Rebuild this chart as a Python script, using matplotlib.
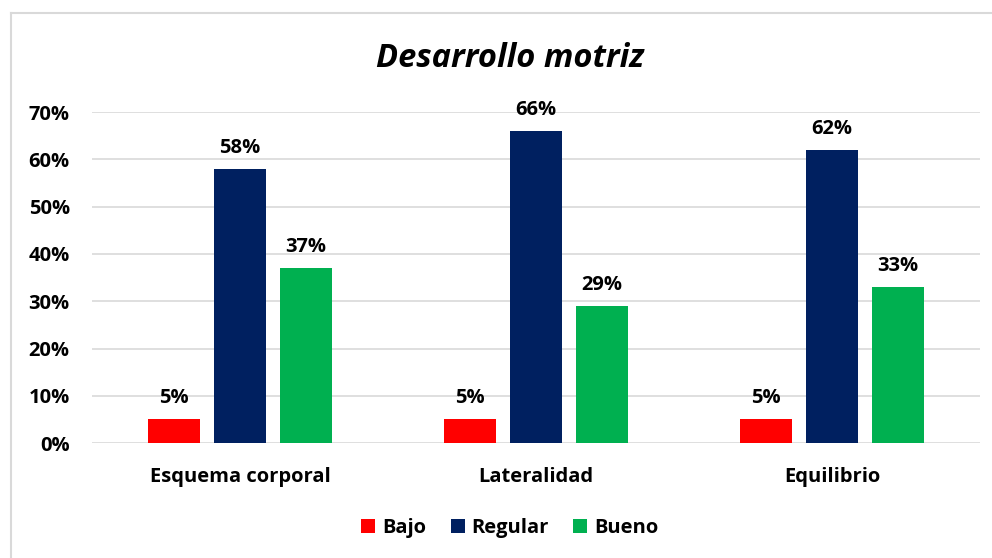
import matplotlib
matplotlib.use("Agg")
import matplotlib.pyplot as plt
import matplotlib.ticker as mticker
from matplotlib.lines import Line2D
import numpy as np

plt.rcParams["font.family"] = ["Open Sans", "DejaVu Sans"]

categorias = ["Esquema corporal", "Lateralidad", "Equilibrio"]
series = ["Bajo", "Regular", "Bueno"]
bajo = [5, 5, 5]
regular = [58, 66, 62]
bueno = [37, 29, 33]
valores = [bajo, regular, bueno]
colores = ["#FF0000", "#002060", "#00B050"]

fig = plt.figure(figsize=(9.92, 5.58), dpi=100)
ax = fig.add_axes([0.0927, 0.206, 0.8953, 0.593])

x = np.arange(len(categorias))
ancho = 0.176
paso = 0.223

for i, (nombre, vals, col) in enumerate(zip(series, valores, colores)):
    pos = x + (i - 1) * paso
    ax.bar(pos, vals, width=ancho, color=col, label=nombre, zorder=3)
    for px, v in zip(pos, vals):
        ax.annotate(f"{v}%", (px, v), xytext=(0, 8), textcoords="offset points",
                    ha="center", va="bottom", fontsize=14.5, fontweight="bold", color="#000000")

ax.set_xlim(-0.5, len(categorias) - 0.5)
ax.set_ylim(0, 70)
ax.yaxis.set_major_locator(mticker.MultipleLocator(10))
ax.yaxis.set_major_formatter(mticker.FuncFormatter(lambda v, p: f"{v:.0f}%"))
ax.set_xticks(x)
ax.set_xticklabels(categorias)
ax.tick_params(axis="both", length=0, labelsize=14.5)
ax.tick_params(axis="y", pad=16)
ax.tick_params(axis="x", pad=17)
for lab in ax.get_xticklabels() + ax.get_yticklabels():
    lab.set_fontweight("bold")
ax.grid(axis="y", color="#D9D9D9", linewidth=1.2, zorder=0)
for s in ax.spines.values():
    s.set_visible(False)

fig.text(0.514, 0.895, "Desarrollo motriz", ha="center", va="center",
         fontsize=23.5, fontweight="bold", fontstyle="italic")

leg = fig.legend(loc="center", bbox_to_anchor=(0.514, 0.053), ncol=3, frameon=False,
                 fontsize=14.5, handlelength=0.7, handleheight=0.7, handletextpad=0.35,
                 columnspacing=1.2)
for t in leg.get_texts():
    t.set_fontweight("bold")

# marco del gráfico (solo bordes superior e izquierdo visibles)
fig.add_artist(Line2D([11 / 992, 11 / 992], [0, 1 - 13 / 558], transform=fig.transFigure,
                      color="#D9D9D9", linewidth=1.5))
fig.add_artist(Line2D([11 / 992, 1], [1 - 13 / 558, 1 - 13 / 558], transform=fig.transFigure,
                      color="#D9D9D9", linewidth=1.5))

fig.savefig("out.png", dpi=100)
